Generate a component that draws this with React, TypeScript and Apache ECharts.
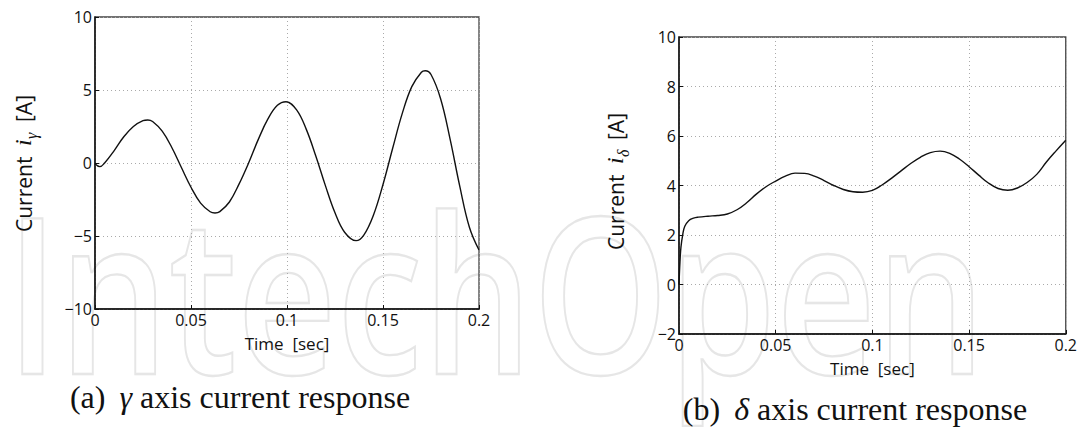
import React, { useEffect, useRef } from "react";
import * as echarts from "echarts";

// ---- data ----
const timeGamma = [
  0, 0.0025, 0.005, 0.01, 0.015, 0.02, 0.025, 0.0275, 0.03, 0.035, 0.04, 0.045, 0.05, 0.055, 0.06,
  0.0625, 0.065, 0.07, 0.075, 0.08, 0.085, 0.09, 0.095, 0.0995, 0.105, 0.11, 0.115, 0.12, 0.125,
  0.13, 0.136, 0.14, 0.145, 0.15, 0.155, 0.16, 0.165, 0.17, 0.172, 0.175, 0.18, 0.185, 0.19, 0.195, 0.2,
];
const currentGamma = [
  -0.05, -0.25, 0.0, 0.85, 1.8, 2.5, 2.9, 2.95, 2.84, 2.18, 1.06, -0.31, -1.66, -2.75, -3.34,
  -3.42, -3.33, -2.67, -1.45, 0.0, 1.6, 3.0, 3.95, 4.2, 3.64, 2.32, 0.48, -1.55, -3.41,
  -4.74, -5.32, -4.94, -3.58, -1.47, 0.99, 3.38, 5.23, 6.22, 6.32, 6.06, 4.4, 1.6, -1.6, -4.4, -5.96,
];
const timeDelta = [
  0, 0.0005, 0.001, 0.002, 0.003, 0.005, 0.0075, 0.01, 0.015, 0.02, 0.025, 0.03, 0.035, 0.04, 0.045,
  0.05, 0.055, 0.06, 0.065, 0.07, 0.075, 0.08, 0.085, 0.09, 0.095, 0.1, 0.105, 0.11, 0.115, 0.12,
  0.125, 0.13, 0.135, 0.14, 0.145, 0.15, 0.155, 0.16, 0.165, 0.17, 0.175, 0.18, 0.185, 0.19, 0.195, 0.2,
];
const currentDelta = [
  0, 0.9, 1.5, 2.05, 2.35, 2.58, 2.68, 2.72, 2.76, 2.79, 2.85, 3.02, 3.3, 3.65, 3.95,
  4.18, 4.38, 4.5, 4.49, 4.38, 4.2, 4.0, 3.84, 3.75, 3.73, 3.8, 4.02, 4.3, 4.6, 4.9,
  5.15, 5.33, 5.39, 5.3, 5.07, 4.76, 4.42, 4.1, 3.88, 3.81, 3.9, 4.12, 4.45, 4.95, 5.4, 5.83,
];
const timeTicks = { min: 0, max: 0.2, interval: 0.05 };
const gammaTicks = { min: -10, max: 10, interval: 5 };
const deltaTicks = { min: -2, max: 10, interval: 2 };
const xTitle = "Time  [sec]";
const captions = ["(a)", "(b)"];
const captionText = "axis current response";
const greek = ["γ", "δ"];

const SANS = "'Open Sans', 'Noto Sans', sans-serif";
const SERIF = "'Liberation Serif', 'DejaVu Serif', serif";

function pairs(t: number[], v: number[]) {
  return t.map((x, i) => [x, v[i]]);
}

function xAxisFor(gridIndex: number) {
  return {
    type: "value",
    gridIndex,
    ...timeTicks,
    axisLine: { show: true, onZero: false, lineStyle: { color: "#111", width: 1.5 } },
    axisTick: { show: true, inside: true, length: 4, lineStyle: { color: "#111" } },
    axisLabel: {
      color: "#111",
      fontSize: 16,
      fontFamily: SANS,
      margin: 3,
      formatter: (v: number) => String(+v.toFixed(2)),
    },
    splitLine: { show: true, lineStyle: { color: "#aaa", type: [1, 3], width: 1 } },
    name: xTitle,
    nameLocation: "middle",
    nameGap: 26,
    nameTextStyle: { color: "#111", fontSize: 17, fontFamily: SANS },
  };
}

function yAxisFor(gridIndex: number, ticks: { min: number; max: number; interval: number }) {
  return {
    type: "value",
    gridIndex,
    ...ticks,
    axisLine: { show: true, onZero: false, lineStyle: { color: "#111", width: 1.5 } },
    axisTick: { show: true, inside: true, length: 4, lineStyle: { color: "#111" } },
    axisLabel: {
      color: "#111",
      fontSize: 16,
      fontFamily: SANS,
      margin: 3,
      formatter: (v: number) => String(v).replace("-", "\u2212"),
    },
    splitLine: { show: true, lineStyle: { color: "#aaa", type: [1, 3], width: 1 } },
  };
}

function yTitle(cx: number, bottomY: number, sub: string) {
  return {
    type: "group",
    x: cx,
    y: bottomY,
    rotation: Math.PI / 2,
    children: [
      { type: "text", x: 0, y: 0, style: { text: "Current", font: `21px ${SANS}`, fill: "#111", align: "left", verticalAlign: "middle" } },
      { type: "text", x: 86, y: -1, style: { text: "i", font: `italic 24px ${SERIF}`, fill: "#111", align: "left", verticalAlign: "middle" } },
      { type: "text", x: 93, y: 7, style: { text: sub, font: `italic 16px ${SERIF}`, fill: "#111", align: "left", verticalAlign: "middle" } },
      { type: "text", x: 110, y: 0, style: { text: "[A]", font: `21px ${SANS}`, fill: "#111", align: "left", verticalAlign: "middle" } },
    ],
  };
}

function caption(cx: number, cy: number, i: number) {
  return {
    type: "text",
    x: cx,
    y: cy,
    style: {
      text: `{t|${captions[i]}}{g|${greek[i]}}{t| ${captionText}}`,
      align: "center",
      verticalAlign: "middle",
      fill: "#111",
      rich: {
        t: { font: `32px ${SERIF}`, fill: "#111" },
        g: { font: `italic 32px ${SERIF}`, fill: "#111", padding: [0, 0, 0, 14] },
      },
    },
  };
}

export default function App() {
  const ref = useRef<HTMLDivElement>(null);
  useEffect(() => {
    if (!ref.current) return;
    const chart = echarts.init(ref.current, undefined, { renderer: "svg" });
    chart.setOption({
      animation: false,
      backgroundColor: "#fff",
      grid: [
        { left: 95, top: 17, width: 384, height: 292, show: true, borderColor: "#444", borderWidth: 1.3, backgroundColor: "transparent" },
        { left: 679, top: 37, width: 389, height: 297, show: true, borderColor: "#444", borderWidth: 1.3, backgroundColor: "transparent" },
      ],
      xAxis: [xAxisFor(0), xAxisFor(1)],
      yAxis: [yAxisFor(0, gammaTicks), yAxisFor(1, deltaTicks)],
      series: [
        {
          type: "line",
          xAxisIndex: 0,
          yAxisIndex: 0,
          data: pairs(timeGamma, currentGamma),
          smooth: 0.4,
          showSymbol: false,
          lineStyle: { color: "#111", width: 1.4 },
        },
        {
          type: "line",
          xAxisIndex: 1,
          yAxisIndex: 1,
          data: pairs(timeDelta, currentDelta),
          smooth: 0.4,
          showSymbol: false,
          lineStyle: { color: "#111", width: 1.4 },
        },
      ],
      graphic: [
        {
          type: "text",
          x: 6,
          y: 290,
          z: -10,
          scaleX: 0.92,
          scaleY: 1.16,
          silent: true,
          style: {
            text: "IntechOpen",
            font: `600 188px ${SANS}`,
            fill: "transparent",
            stroke: "#e6e6e6",
            lineWidth: 2,
            align: "left",
            verticalAlign: "middle",
          },
        },
        yTitle(24, 232, "γ"),
        yTitle(616, 250, "δ"),
        caption(240, 397, 0),
        caption(855, 409, 1),
      ],
    });
    return () => chart.dispose();
  }, []);
  return <div ref={ref} style={{ position: "fixed", left: 0, top: 0, width: 1080, height: 427 }} />;
}
